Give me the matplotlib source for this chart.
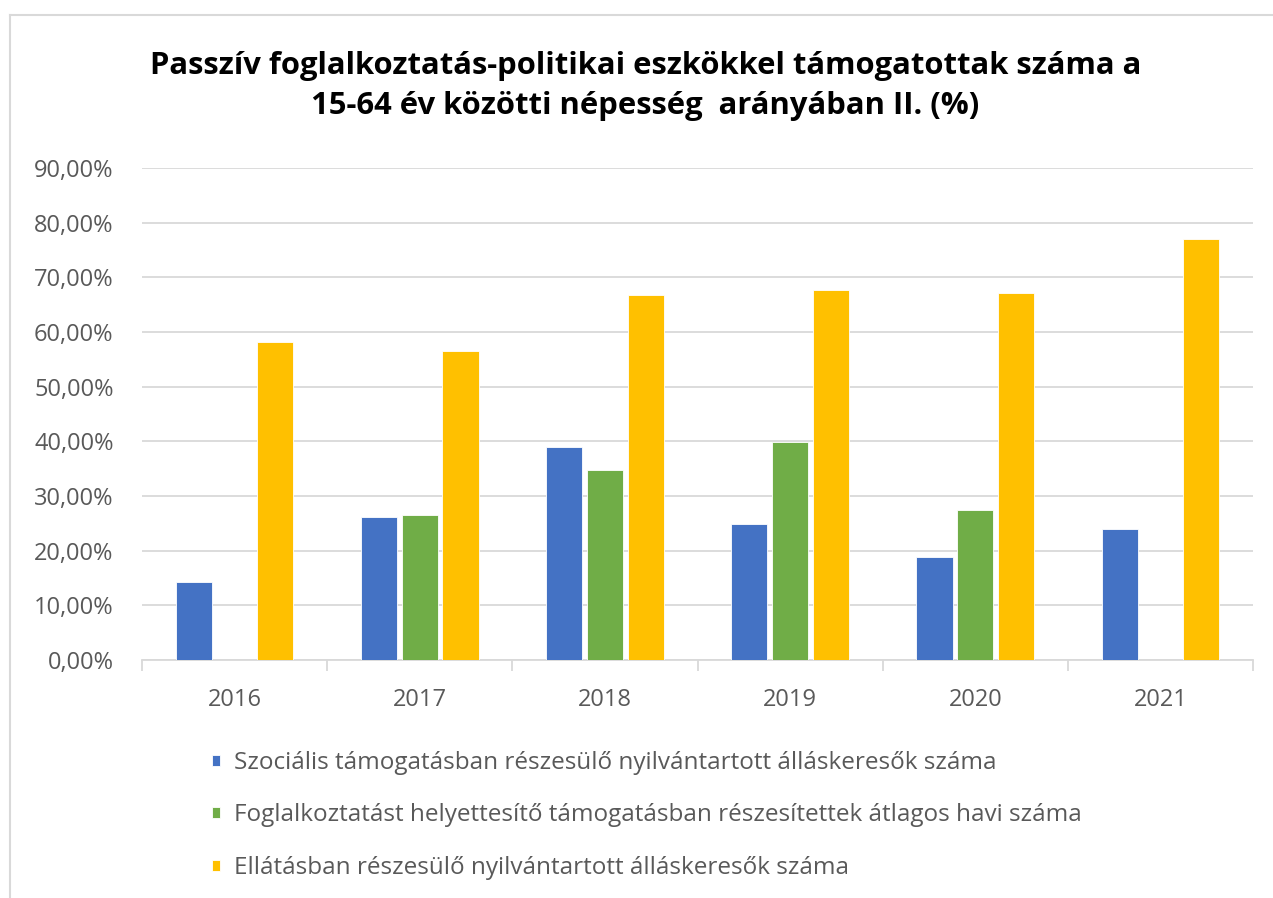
import numpy as np
import matplotlib
matplotlib.use("Agg")
import matplotlib.pyplot as plt
from matplotlib.ticker import FuncFormatter
from matplotlib.lines import Line2D

years = ["2016", "2017", "2018", "2019", "2020", "2021"]
szocialis = [14.2, 26.2, 39.0, 24.9, 18.9, 24.0]
foglalkoztatast = [np.nan, 26.6, 34.8, 39.9, 27.4, np.nan]
ellatas = [58.2, 56.5, 66.8, 67.6, 67.2, 77.1]
labels = [
    "Szociális támogatásban részesülő nyilvántartott álláskeresők száma",
    "Foglalkoztatást helyettesítő támogatásban részesítettek átlagos havi száma",
    "Ellátásban részesülő nyilvántartott álláskeresők száma",
]
title_lines = [
    "Passzív foglalkoztatás-politikai eszkökkel támogatottak száma a",
    "15-64 év közötti népesség  arányában II. (%)",
]
colors = ["#4472C4", "#70AD47", "#FFC000"]

plt.rcParams['font.family'] = ['Open Sans', 'DejaVu Sans']
W, H = 1273, 898
fig = plt.figure(figsize=(W / 100, H / 100), dpi=100)

# light frame on top and left, like the exported Excel chart
fig.add_artist(Line2D([10 / W, 10 / W], [0, 1 - 15 / H], color="#D9D9D9", lw=1.5))
fig.add_artist(Line2D([10 / W, 1], [1 - 15 / H, 1 - 15 / H], color="#D9D9D9", lw=1.5))

ax = fig.add_axes([142 / W, 1 - 660 / H, (1253 - 142) / W, (660 - 168) / H])

x = np.arange(len(years))
w = 0.195
step = 0.22
series = [szocialis, foglalkoztatast, ellatas]
handles = []
for i, (vals, c) in enumerate(zip(series, colors)):
    b = ax.bar(x + (i - 1) * step, [v / 100 for v in vals], width=w, color=c,
               edgecolor="white", linewidth=0.6, zorder=3)
    handles.append(b)

ax.set_xlim(-0.5, len(years) - 0.5)
ax.set_ylim(0, 0.9)
ax.set_yticks(np.arange(0, 0.91, 0.1))
ax.yaxis.set_major_formatter(FuncFormatter(lambda v, p: f"{v * 100:.2f}%".replace(".", ",")))
ax.grid(axis="y", color="#D9D9D9", lw=1.3, zorder=0)
ax.set_axisbelow(True)

ax.set_xticks(x)
ax.set_xticklabels(years)
ax.set_xticks(np.arange(-0.5, len(years)), minor=True)
ax.tick_params(axis="x", which="major", length=0, pad=20, labelsize=17, labelcolor="#595959")
ax.tick_params(axis="x", which="minor", length=8, width=1.3, color="#D9D9D9")
ax.tick_params(axis="y", length=0, pad=20.5, labelsize=17, labelcolor="#595959")

for s in ["top", "right", "left"]:
    ax.spines[s].set_visible(False)
ax.spines["bottom"].set_color("#D9D9D9")
ax.spines["bottom"].set_linewidth(1.3)

# title, one text per line
for line, ypx in zip(title_lines, [66, 106]):
    fig.text(0.507, 1 - ypx / H, line, ha="center", va="center",
             fontsize=22.3, fontweight="bold", color="black")

leg = fig.legend(handles, labels, loc="upper left", bbox_to_anchor=(190 / W, 1 - 729 / H),
                 frameon=False, fontsize=17.5, handlelength=0.32, handleheight=0.32,
                 handletextpad=0.6, labelspacing=1.17, labelcolor="#595959")

fig.savefig("out.png", dpi=100)
